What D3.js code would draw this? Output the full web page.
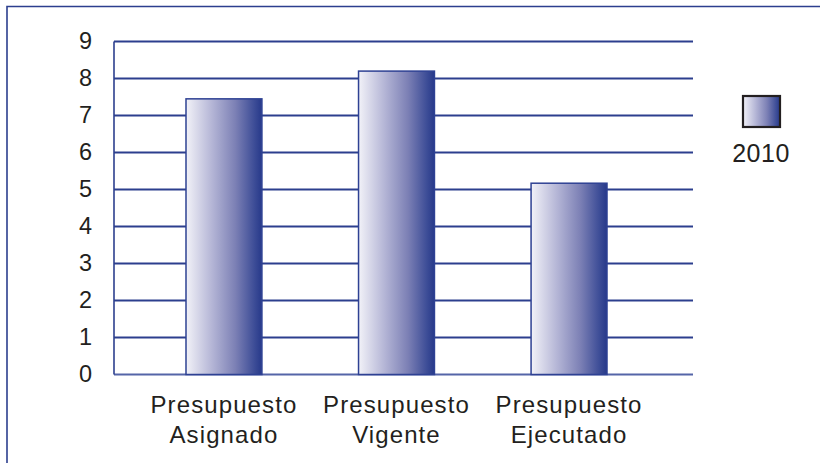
<!DOCTYPE html>
<html><head><meta charset="utf-8">
<script src="https://cdn.jsdelivr.net/npm/d3@7/dist/d3.min.js"></script>
<style>html,body{margin:0;padding:0;background:#fff;}svg{display:block;}</style>
</head><body><svg id="c" width="820" height="463"></svg>
<script>
const categories = [["Presupuesto","Asignado"],["Presupuesto","Vigente"],["Presupuesto","Ejecutado"]];
const values2010 = [7.45, 8.2, 5.17];
const yTicks = [0,1,2,3,4,5,6,7,8,9];
const seriesName = "2010";

const svg = d3.select("#c");
const blue = "#2c3f8e";
const defs = svg.append("defs");
const g = defs.append("linearGradient").attr("id","bg").attr("x1","0").attr("x2","1").attr("y1","0").attr("y2","0");
[["0%","#f2f2f8"],["35%","#b3b4d5"],["65%","#7c80b5"],["90%","#3d4d97"],["100%","#27398a"]].forEach(s=>g.append("stop").attr("offset",s[0]).attr("stop-color",s[1]));

// frame
svg.append("path").attr("d","M7,463 V6.5 H820").attr("fill","none").attr("stroke",blue).attr("stroke-width",1.6);

const keys = categories.map(c=>c.join(" "));
const x = d3.scaleBand().domain(keys).range([186,607]).paddingInner(0.56).paddingOuter(0);
const y = d3.scaleLinear().domain([0,9]).range([374.5,41.5]);
const plotL = 114, plotR = 693;

// gridlines
svg.append("g").selectAll("line").data(yTicks).join("line")
  .attr("x1",plotL).attr("x2",plotR).attr("y1",d=>y(d)).attr("y2",d=>y(d))
  .attr("stroke",d=>d===0?"#5565a8":blue).attr("stroke-width",2);
svg.append("line").attr("x1",plotL).attr("x2",plotL).attr("y1",y(9)).attr("y2",y(0)).attr("stroke",blue).attr("stroke-width",1.6);

// y labels
svg.append("g").selectAll("text").data(yTicks).join("text")
  .attr("x",92).attr("y",d=>y(d)).attr("dy","0.3em").attr("text-anchor","end")
  .attr("font-family","Liberation Sans, Arial, sans-serif").attr("font-size",23.5).attr("fill","#231f20")
  .text(d=>d);

// bars
svg.append("g").selectAll("rect").data(values2010).join("rect")
  .attr("x",(d,i)=>x(keys[i])).attr("width",x.bandwidth())
  .attr("y",d=>y(d)).attr("height",d=>y(0)-y(d))
  .attr("fill","url(#bg)").attr("stroke","#2e4193").attr("stroke-width",1.5);

// category labels
const cl = svg.append("g").selectAll("text").data(categories).join("text")
  .attr("text-anchor","middle").attr("font-family","Liberation Sans, Arial, sans-serif")
  .attr("font-size",24).attr("letter-spacing","1.1px").attr("fill","#231f20");
cl.each(function(c,i){
  const t = d3.select(this);
  const cx = x(keys[i]) + x.bandwidth()/2;
  c.forEach((line,j)=>t.append("tspan").attr("x",cx).attr("y",412.5+j*30.5).text(line));
});

// legend
svg.append("rect").attr("x",743).attr("y",96).attr("width",37).attr("height",31)
  .attr("fill","url(#bg)").attr("stroke","#231f20").attr("stroke-width",2.2);
svg.append("text").attr("x",761).attr("y",162).attr("text-anchor","middle")
  .attr("font-family","Liberation Sans, Arial, sans-serif").attr("font-size",25).attr("letter-spacing","0.5px").attr("fill","#231f20").text(seriesName);
</script></body></html>
